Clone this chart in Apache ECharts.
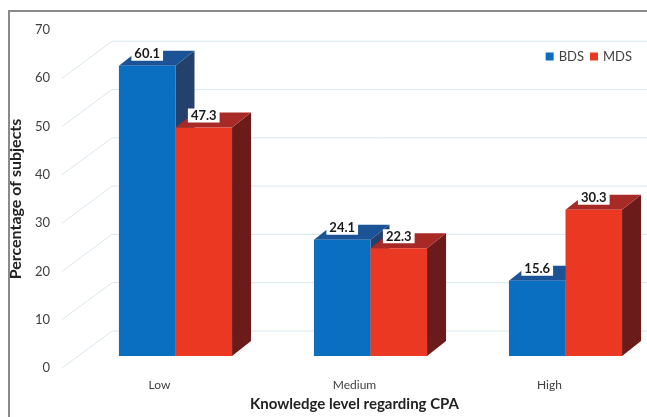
<!DOCTYPE html>
<html>
<head>
<meta charset="utf-8">
<script src="https://cdn.jsdelivr.net/npm/echarts@6/dist/echarts.min.js"></script>
<style>
  html, body { margin: 0; padding: 0; background: #fff; }
  #chart { width: 647px; height: 417px; }
</style>
</head>
<body>
<div id="chart"></div>
<script>
const categories = ["Low", "Medium", "High"];
const bdsValues = [60.1, 24.1, 15.6];
const mdsValues = [47.3, 22.3, 30.3];
const yTicks = [0, 10, 20, 30, 40, 50, 60, 70];
const wallTicks = [0, 10, 20, 30, 40, 50, 60];

// 3d look: bars sit behind the label plane, the wall further back
const BAR_DX = 16, BAR_DY = -12;
const DEPTH_DX = 19, DEPTH_DY = -15;
const WALL_DX = 50, WALL_DY = -37;

const FONT = "Lato";

function barRenderer(side, colors) {
  return function (params, api) {
    const cat = api.value(0);
    const val = api.value(1);
    const base = api.coord([cat, 0]);
    const top = api.coord([cat, val]);
    const band = api.size([1, 0])[0];
    const w = band * 0.29;
    const left = side === 0 ? base[0] + BAR_DX - w : base[0] + BAR_DX;
    const right = left + w;
    const ty = top[1] + BAR_DY;
    const by = base[1] + BAR_DY;
    return {
      type: "group",
      children: [
        {
          type: "polygon",
          shape: { points: [[right, ty], [right + DEPTH_DX, ty + DEPTH_DY], [right + DEPTH_DX, by + DEPTH_DY], [right, by]] },
          style: { fill: colors.side },
        },
        {
          type: "polygon",
          shape: { points: [[left, ty], [right, ty], [right + DEPTH_DX, ty + DEPTH_DY], [left + DEPTH_DX, ty + DEPTH_DY]] },
          style: { fill: colors.top },
        },
        {
          type: "rect",
          shape: { x: left, y: ty, width: w, height: by - ty },
          style: { fill: colors.front },
        },
        {
          type: "text",
          x: left + w / 2,
          y: ty - 12,
          style: {
            text: val.toFixed(1),
            align: "center",
            verticalAlign: "middle",
            fill: "#1a1a1a",
            font: "bold 13px " + FONT,
            backgroundColor: "#fff",
            padding: [1, 3, 0, 3],
          },
        },
      ],
    };
  };
}

const chart = echarts.init(document.getElementById("chart"));
chart.setOption({
  animation: false,
  textStyle: { fontFamily: FONT },
  grid: { left: 60, right: -7, top: 30, bottom: 41 },
  legend: {
    right: 10,
    top: 45,
    itemWidth: 8,
    itemHeight: 8,
    itemGap: 6,
    icon: "rect",
    textStyle: { fontSize: 13, color: "#404040", fontFamily: FONT },
    data: ["BDS", "MDS"],
  },
  graphic: [
    {
      type: "polyline",
      shape: { points: [[9, 417], [9, 11], [647, 11]] },
      style: { stroke: "#8a8a8a", lineWidth: 2, fill: null },
      z: 10,
    },
  ],
  xAxis: {
    type: "category",
    data: categories,
    axisLine: { show: false },
    axisTick: { show: false },
    axisLabel: { fontSize: 12, color: "#404040", margin: 11 },
    name: "Knowledge level regarding CPA",
    nameLocation: "middle",
    nameGap: 29,
    nameTextStyle: { fontSize: 15, fontWeight: "bold", color: "#222" },
  },
  yAxis: {
    type: "value",
    min: 0,
    max: 70,
    interval: 10,
    data: yTicks,
    axisLine: { show: false },
    axisTick: { show: false },
    splitLine: { show: false },
    axisLabel: { fontSize: 13, color: "#404040", margin: 12 },
    name: "Percentage of subjects",
    nameLocation: "middle",
    nameGap: 24,
    nameTextStyle: { fontSize: 16, fontWeight: "bold", color: "#222" },
  },
  series: [
    {
      name: "wall",
      type: "custom",
      silent: true,
      data: wallTicks.map((v) => [0, v]),
      renderItem: function (params, api) {
        const p = api.coord([0, api.value(1)]);
        const x0 = params.coordSys.x;
        const x2 = params.coordSys.x + params.coordSys.width;
        return {
          type: "polyline",
          shape: { points: [[x0, p[1]], [x0 + WALL_DX, p[1] + WALL_DY], [x2, p[1] + WALL_DY]] },
          style: { stroke: "#d9e7ee", lineWidth: 1, fill: null },
        };
      },
    },
    {
      name: "BDS",
      type: "custom",
      itemStyle: { color: "#0b6fc1" },
      data: bdsValues.map((v, i) => [i, v]),
      renderItem: barRenderer(0, { front: "#0b6fc1", top: "#1b5396", side: "#24406c" }),
    },
    {
      name: "MDS",
      type: "custom",
      itemStyle: { color: "#ea3822" },
      data: mdsValues.map((v, i) => [i, v]),
      renderItem: barRenderer(1, { front: "#ea3822", top: "#a82a26", side: "#6c1b1b" }),
    },
  ],
});

window.addEventListener("resize", () => {
  chart.resize();
});
</script>
</body>
</html>
